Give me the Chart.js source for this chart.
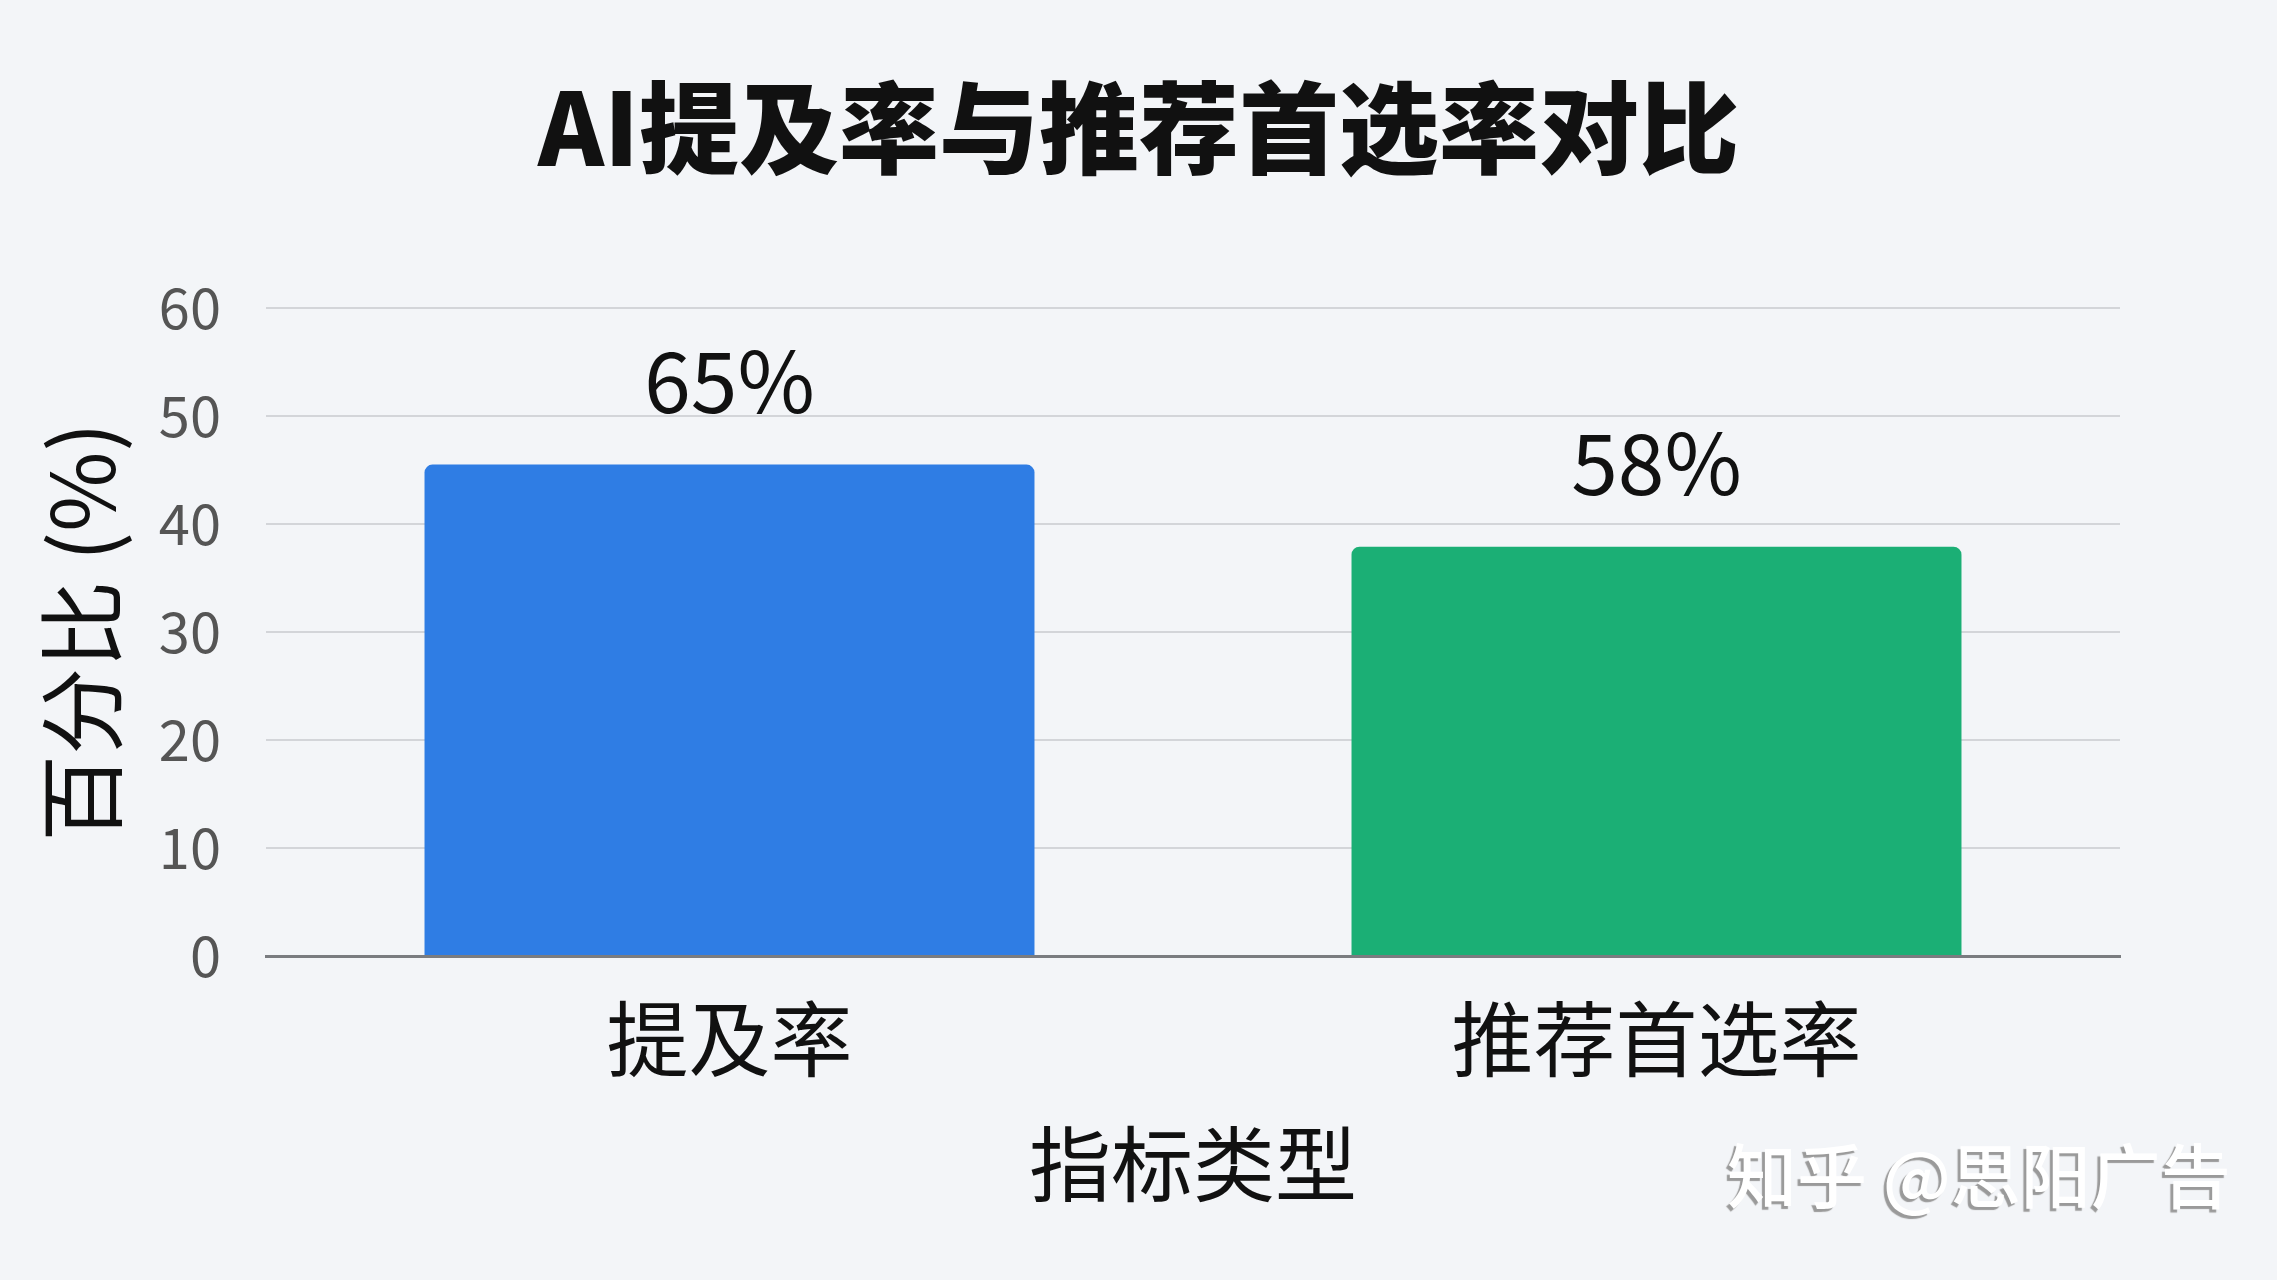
<!DOCTYPE html>
<html>
<head>
<meta charset="utf-8">
<script src="https://cdn.jsdelivr.net/npm/chart.js@4"></script>
<style>
  html, body { margin: 0; padding: 0; background: #f3f5f8; }
  #wrap { position: relative; width: 2277px; height: 1280px; overflow: hidden; background: #f3f5f8; }
  #wm { position: absolute; left: 1727px; top: 1122px; font-family: "Noto Sans CJK SC", sans-serif;
        font-size: 70px; font-weight: 500; color: #ffffff; text-shadow: -3px 3px 1px #9a9a9a; white-space: pre; }
</style>
</head>
<body>
<div id="wrap">
  <canvas id="c" width="2277" height="1280"></canvas>
  <div id="wm">知乎 @思阳广告</div>
</div>
<script>
const chartTitle = 'AI提及率与推荐首选率对比';
const categories = ['提及率', '推荐首选率'];
const barValues = [45.5, 37.9];
const valueLabels = ['65%', '58%'];
const barColors = ['#2F7DE4', '#1BAF75'];
const yAxisTitle = '百分比 (%)';
const xAxisTitle = '指标类型';
const yMin = 0, yMax = 60, yStep = 10;

const FONT = '"Noto Sans CJK SC", "Noto Sans", sans-serif';

const valueLabelPlugin = {
  id: 'valueLabels',
  afterDatasetsDraw(chart) {
    const ctx = chart.ctx;
    const meta = chart.getDatasetMeta(0);
    ctx.save();
    ctx.font = '84px ' + FONT;
    ctx.fillStyle = '#111111';
    ctx.textAlign = 'center';
    ctx.textBaseline = 'alphabetic';
    meta.data.forEach((bar, i) => {
      ctx.fillText(valueLabels[i], bar.x, bar.y - 52);
    });
    ctx.restore();
  }
};

Chart.defaults.font.family = FONT;

new Chart(document.getElementById('c'), {
  type: 'bar',
  data: {
    labels: categories,
    datasets: [{
      data: barValues,
      backgroundColor: barColors,
      borderRadius: { topLeft: 8, topRight: 8, bottomLeft: 0, bottomRight: 0 },
      borderSkipped: 'bottom',
      categoryPercentage: 1.0,
      barPercentage: 0.658
    }]
  },
  options: {
    responsive: false,
    animation: false,
    devicePixelRatio: 1,
    layout: { padding: 0 },
    plugins: {
      legend: { display: false },
      tooltip: { enabled: false },
      title: {
        display: true,
        text: chartTitle,
        color: '#111111',
        font: { size: 100, weight: '900', family: FONT, lineHeight: 1.2 },
        padding: { top: 68, bottom: 120 }
      }
    },
    scales: {
      x: {
        grid: { display: false, drawTicks: false },
        border: { display: true, color: '#7a7c80', width: 3 },
        ticks: { color: '#111111', font: { size: 82, family: FONT, lineHeight: 1.2 }, padding: 34 },
        title: {
          display: true, text: xAxisTitle, color: '#111111',
          font: { size: 82, family: FONT, lineHeight: 1.2 },
          padding: { top: 27, bottom: 67 }
        },
        afterFit(scale) { scale.height = 324; }
      },
      y: {
        min: yMin, max: yMax,
        grid: { color: '#d3d5d9', lineWidth: 2, drawTicks: false },
        border: { display: false },
        ticks: { stepSize: yStep, color: '#555555', font: { size: 56, family: FONT }, padding: 45 },
        title: {
          display: true, text: yAxisTitle, color: '#111111',
          font: { size: 87, family: FONT, lineHeight: 1.2 },
          padding: { top: 30, bottom: 28 }
        },
        afterFit(scale) { scale.width = 266; }
      },
      yRight: {
        position: 'right',
        min: yMin, max: yMax,
        grid: { display: false, drawTicks: false },
        border: { display: false },
        ticks: { display: false },
        afterFit(scale) { scale.width = 157; }
      }
    }
  },
  plugins: [valueLabelPlugin]
});
</script>
</body>
</html>
